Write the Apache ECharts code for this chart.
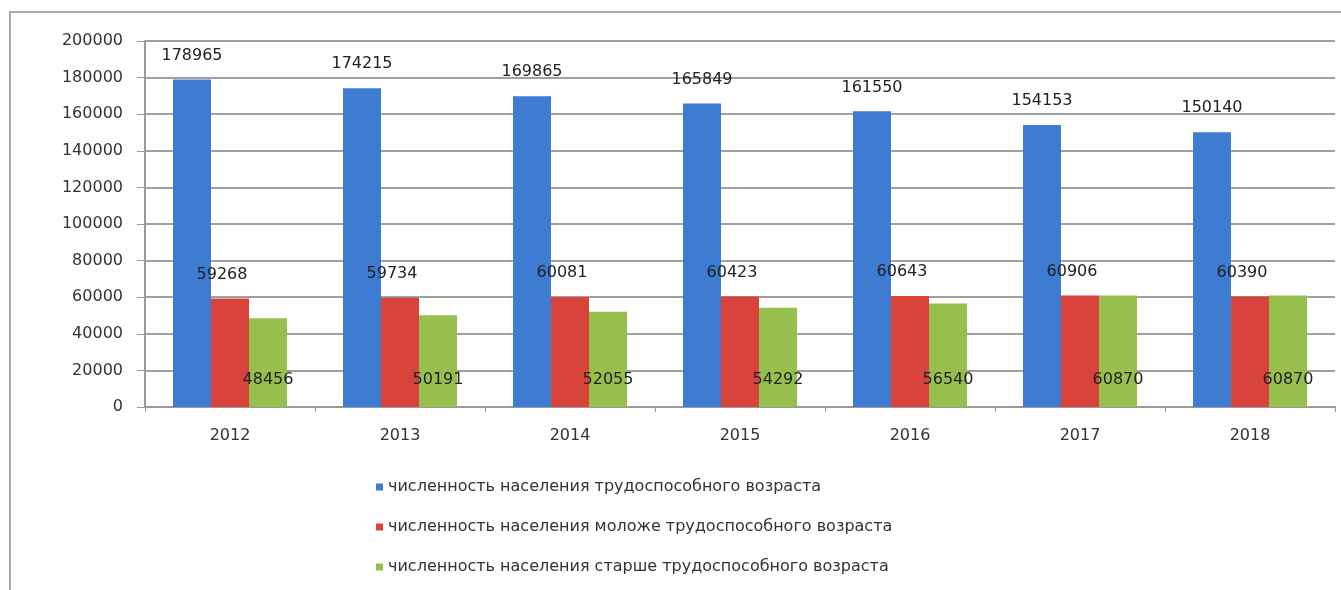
<!DOCTYPE html>
<html><head><meta charset="utf-8">
<script src="https://cdn.jsdelivr.net/npm/echarts@6/dist/echarts.min.js"></script>
<style>html,body{margin:0;padding:0;background:#fff}#c{width:1341px;height:590px}</style>
</head><body><div id="c"></div>
<script>
const years = ['2012','2013','2014','2015','2016','2017','2018'];
const working = [178965,174215,169865,165849,161550,154153,150140];
const younger = [59268,59734,60081,60423,60643,60906,60390];
const older = [48456,50191,52055,54292,56540,60870,60870];
const names = ['численность населения трудоспособного возраста','численность населения моложе трудоспособного возраста','численность населения старше трудоспособного возраста'];
const colors = ['#3d7cd0','#d8443c','#97bf4e'];
const font = 'DejaVu Sans, sans-serif';
const chart = echarts.init(document.getElementById('c'));
const lbl = {show:true,color:'#222',fontFamily:font,fontSize:16};
chart.setOption({
  animation:false,
  graphic:[{type:'rect',shape:{x:10,y:12,width:1400,height:700},style:{fill:'none',stroke:'#aaa',lineWidth:2},silent:true}],
  grid:{left:145,right:6,top:41,bottom:183},
  legend:{orient:'vertical',left:371,top:474,itemGap:24,itemWidth:7,itemHeight:7,icon:'rect',
    textStyle:{fontFamily:font,fontSize:16,color:'#333'},data:names},
  xAxis:{type:'category',data:years,
    axisLine:{lineStyle:{color:'#999',width:2}},
    axisTick:{show:true,lineStyle:{color:'#999'},length:5},
    axisLabel:{color:'#333',fontFamily:font,fontSize:16,margin:21}},
  yAxis:{type:'value',min:0,max:200000,interval:20000,
    axisLine:{show:true,lineStyle:{color:'#999',width:2}},
    axisTick:{show:true,length:8,lineStyle:{color:'#999'}},
    splitLine:{lineStyle:{color:'#a0a0a0',width:2}},
    axisLabel:{color:'#333',fontFamily:font,fontSize:16,margin:22,formatter:v=>String(v)}},
  series:[
    {name:names[0],type:'bar',data:working,itemStyle:{color:colors[0]},barGap:'0%',barWidth:38,
      label:Object.assign({position:'top',distance:16},lbl)},
    {name:names[1],type:'bar',data:younger,itemStyle:{color:colors[1]},barGap:'0%',barWidth:38,
      label:Object.assign({position:'top',distance:16,offset:[-8,0]},lbl)},
    {name:names[2],type:'bar',data:older,itemStyle:{color:colors[2]},barGap:'0%',barWidth:38,
      label:Object.assign({position:'insideBottom',distance:19},lbl)}
  ]
});
</script></body></html>
